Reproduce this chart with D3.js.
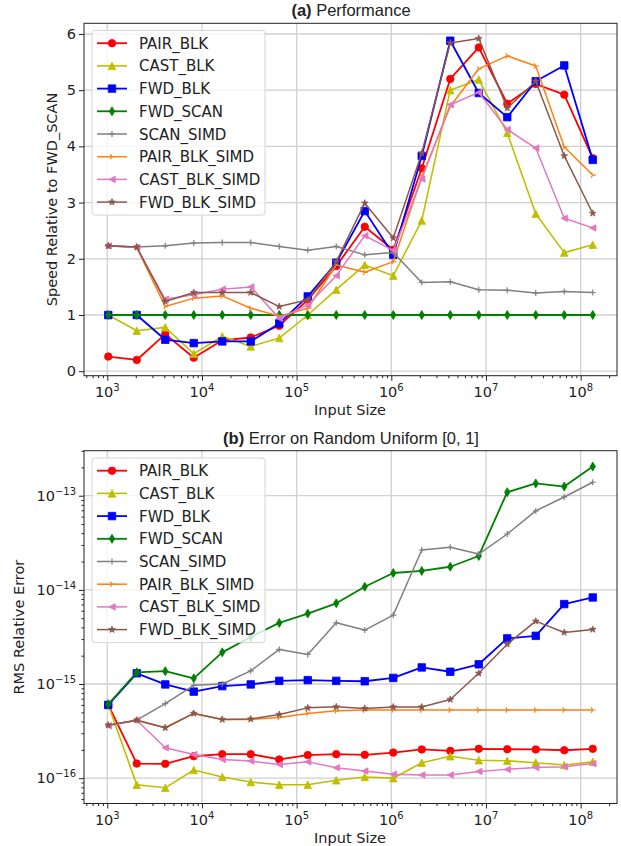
<!DOCTYPE html>
<html>
<head>
<meta charset="utf-8">
<script src="https://cdn.jsdelivr.net/npm/d3@7"></script>
<style>
  body { margin: 0; background: #fff; }
  svg { display: block; }
  text { font-family: "DejaVu Sans", sans-serif; fill: #222; }
</style>
</head>
<body>
<div id="chart"></div>
<script>
// tailles d'entrée (2^10 .. 2^27)
const sizes = [1024, 2048, 4096, 8192, 16384, 32768, 65536, 131072, 262144, 524288,
  1048576, 2097152, 4194304, 8388608, 16777216, 33554432, 67108864, 134217728];

const seriesNames = ["PAIR_BLK", "CAST_BLK", "FWD_BLK", "FWD_SCAN", "SCAN_SIMD",
  "PAIR_BLK_SIMD", "CAST_BLK_SIMD", "FWD_BLK_SIMD"];

// (a) vitesse relative à FWD_SCAN
const speedPairBlk = [0.26, 0.20, 0.66, 0.24, 0.55, 0.60, 0.81, 1.27, 1.87, 2.57, 2.16, 3.61, 5.20, 5.76, 4.76, 5.11, 4.92, 3.79];
const speedCastBlk = [1.00, 0.72, 0.78, 0.31, 0.62, 0.44, 0.59, 1.00, 1.45, 1.89, 1.70, 2.68, 5.00, 5.19, 4.24, 2.80, 2.11, 2.25];
const speedFwdBlk = [1.00, 1.00, 0.56, 0.50, 0.53, 0.53, 0.85, 1.33, 1.93, 2.85, 2.07, 3.83, 5.88, 4.95, 4.52, 5.16, 5.44, 3.76];
const speedFwdScan = [1, 1, 1, 1, 1, 1, 1, 1, 1, 1, 1, 1, 1, 1, 1, 1, 1, 1];
const speedScanSimd = [2.23, 2.21, 2.23, 2.28, 2.29, 2.29, 2.22, 2.15, 2.22, 2.07, 2.11, 1.58, 1.59, 1.45, 1.44, 1.39, 1.42, 1.40];
const speedPairBlkSimd = [2.23, 2.20, 1.15, 1.30, 1.34, 1.12, 0.98, 1.12, 1.89, 1.76, 1.95, 3.46, 4.71, 5.38, 5.61, 5.43, 3.99, 3.49];
const speedCastBlkSimd = [2.23, 2.20, 1.28, 1.36, 1.46, 1.50, 0.94, 1.18, 1.70, 2.41, 2.15, 3.42, 4.74, 4.96, 4.30, 3.97, 2.72, 2.55];
const speedFwdBlkSimd = [2.23, 2.21, 1.24, 1.40, 1.40, 1.40, 1.15, 1.27, 1.95, 2.99, 2.37, 3.88, 5.84, 5.92, 4.68, 5.16, 3.83, 2.81];

// (b) erreur RMS relative
const errPairBlk = [6.0e-16, 1.43e-16, 1.42e-16, 1.71e-16, 1.80e-16, 1.80e-16, 1.58e-16, 1.76e-16, 1.80e-16, 1.77e-16, 1.87e-16, 2.02e-16, 1.95e-16, 2.05e-16, 2.03e-16, 2.02e-16, 1.98e-16, 2.05e-16];
const errCastBlk = [6.0e-16, 8.5e-17, 7.9e-17, 1.22e-16, 1.03e-16, 9.1e-17, 8.5e-17, 8.5e-17, 9.5e-17, 1.03e-16, 1.0e-16, 1.46e-16, 1.71e-16, 1.55e-16, 1.53e-16, 1.46e-16, 1.38e-16, 1.49e-16];
const errFwdBlk = [6.0e-16, 1.30e-15, 9.9e-16, 8.3e-16, 9.5e-16, 9.9e-16, 1.08e-15, 1.10e-15, 1.08e-15, 1.07e-15, 1.16e-15, 1.50e-15, 1.35e-15, 1.62e-15, 3.05e-15, 3.25e-15, 7.06e-15, 8.3e-15];
const errFwdScan = [6.1e-16, 1.33e-15, 1.37e-15, 1.15e-15, 2.17e-15, 3.16e-15, 4.46e-15, 5.6e-15, 7.2e-15, 1.08e-14, 1.51e-14, 1.59e-14, 1.76e-14, 2.29e-14, 1.09e-13, 1.35e-13, 1.25e-13, 2.04e-13];
const errScanSimd = [3.66e-16, 4.13e-16, 6.2e-16, 9.7e-16, 1.0e-15, 1.38e-15, 2.33e-15, 2.06e-15, 4.47e-15, 3.74e-15, 5.4e-15, 2.65e-14, 2.83e-14, 2.4e-14, 3.92e-14, 6.9e-14, 9.7e-14, 1.39e-13];
const errPairBlkSimd = [3.66e-16, 4.13e-16, 3.43e-16, 4.87e-16, 4.2e-16, 4.2e-16, 4.41e-16, 4.87e-16, 5.19e-16, 5.3e-16, 5.3e-16, 5.3e-16, 5.3e-16, 5.3e-16, 5.3e-16, 5.3e-16, 5.3e-16, 5.3e-16];
const errCastBlkSimd = [3.6e-16, 4.13e-16, 2.1e-16, 1.78e-16, 1.58e-16, 1.52e-16, 1.40e-16, 1.49e-16, 1.29e-16, 1.19e-16, 1.10e-16, 1.08e-16, 1.08e-16, 1.18e-16, 1.24e-16, 1.30e-16, 1.32e-16, 1.43e-16];
const errFwdBlkSimd = [3.66e-16, 4.13e-16, 3.43e-16, 4.87e-16, 4.2e-16, 4.25e-16, 4.75e-16, 5.58e-16, 5.72e-16, 5.5e-16, 5.7e-16, 5.7e-16, 6.85e-16, 1.3e-15, 2.65e-15, 4.65e-15, 3.53e-15, 3.8e-15];

const speedTicks = [0, 1, 2, 3, 4, 5, 6];
const errTickExps = [-16, -15, -14, -13];
const sizeTickExps = [3, 4, 5, 6, 7, 8];

const speedData = [speedPairBlk, speedCastBlk, speedFwdBlk, speedFwdScan, speedScanSimd, speedPairBlkSimd, speedCastBlkSimd, speedFwdBlkSimd];
const errData = [errPairBlk, errCastBlk, errFwdBlk, errFwdScan, errScanSimd, errPairBlkSimd, errCastBlkSimd, errFwdBlkSimd];

// styles : couleur, marqueur, taille, épaisseur
const styles = [
  { color: "#ff0000", marker: "circle", size: 7.5, width: 1.8 },
  { color: "#bfbf00", marker: "triUp", size: 7.5, width: 1.6 },
  { color: "#0000ff", marker: "square", size: 7.5, width: 1.8 },
  { color: "#008000", marker: "thinDiamond", size: 9, width: 1.8 },
  { color: "#7f7f7f", marker: "plus", size: 6, width: 1.5 },
  { color: "#ff7f0e", marker: "triRight", size: 6, width: 1.5 },
  { color: "#e377c2", marker: "triLeft", size: 6.5, width: 1.5 },
  { color: "#8c564b", marker: "star", size: 7, width: 1.5 }
];

const fs = "14.5px";     // taille des textes d'axes
const fsSup = "10px";

// chemins des marqueurs, centrés sur (0,0)
function markerPath(type, s) {
  const r = s / 2;
  switch (type) {
    case "circle": return `M${r},0A${r},${r} 0 1,1 ${-r},0A${r},${r} 0 1,1 ${r},0Z`;
    case "square": return `M${-r},${-r}H${r}V${r}H${-r}Z`;
    case "triUp": return `M0,${-r}L${r},${r}L${-r},${r}Z`;
    case "triLeft": return `M${-r},0L${r},${-r}L${r},${r}Z`;
    case "thinDiamond": return `M0,${-r}L${r * 0.6},0L0,${r}L${-r * 0.6},0Z`;
    case "plus": return `M${-r},0H${r}M0,${-r}V${r}`;
    case "triRight": return `M0,0L${r},0M0,0L${-r * 0.5},${-r * 0.87}M0,0L${-r * 0.5},${r * 0.87}`;
    case "star": {
      let d = "";
      for (let i = 0; i < 10; i++) {
        const a = -Math.PI / 2 + i * Math.PI / 5;
        const rr = i % 2 === 0 ? r : r * 0.4;
        d += (i === 0 ? "M" : "L") + (rr * Math.cos(a)).toFixed(2) + "," + (rr * Math.sin(a)).toFixed(2);
      }
      return d + "Z";
    }
  }
}
const openMarker = t => t === "plus" || t === "triRight";

const W = 621, H = 846;
const svg = d3.select("#chart").append("svg").attr("width", W).attr("height", H);

const left = 84, right = 617;
const x = d3.scaleLog().domain([Math.pow(10, 2.754), Math.pow(10, 8.384)]).range([left, right]);

function drawPanel(cfg) {
  const g = svg.append("g");
  const y = cfg.y;
  const [top, bottom] = [y.range()[1], y.range()[0]];

  // grille
  sizeTickExps.forEach(e => {
    g.append("line").attr("x1", x(Math.pow(10, e))).attr("x2", x(Math.pow(10, e)))
      .attr("y1", top).attr("y2", bottom).attr("stroke", "#d0d0d0").attr("stroke-width", 1.3);
  });
  cfg.yTicks.forEach(v => {
    g.append("line").attr("x1", left).attr("x2", right).attr("y1", y(v)).attr("y2", y(v))
      .attr("stroke", "#d0d0d0").attr("stroke-width", 1.3);
  });

  // séries
  const line = d3.line().x((d, i) => x(sizes[i])).y(d => y(d));
  cfg.data.forEach((vals, si) => {
    const st = styles[si];
    const sg = g.append("g");
    sg.append("path").attr("d", line(vals)).attr("fill", "none")
      .attr("stroke", st.color).attr("stroke-width", st.width).attr("stroke-linejoin", "round");
    sg.selectAll("path.m").data(vals).join("path").attr("class", "m")
      .attr("transform", (d, i) => `translate(${x(sizes[i])},${y(d)})`)
      .attr("d", markerPath(st.marker, st.size))
      .attr("fill", openMarker(st.marker) ? "none" : st.color)
      .attr("stroke", st.color).attr("stroke-width", openMarker(st.marker) ? 1.2 : 0.8);
  });

  // axes
  const xAxis = d3.axisBottom(x).tickValues(sizeTickExps.map(e => Math.pow(10, e)))
    .tickFormat("").tickSize(5);
  const xMinor = [];
  for (let e = 2; e <= 8; e++) for (let m = 2; m <= 9; m++) {
    const v = m * Math.pow(10, e);
    if (x(v) > left && x(v) < right) xMinor.push(v);
  }
  const ax = g.append("g").attr("transform", `translate(0,${bottom})`).call(xAxis);
  ax.select(".domain").remove();
  ax.selectAll(".tick line").attr("stroke", "#222");
  g.append("g").attr("transform", `translate(0,${bottom})`)
    .call(d3.axisBottom(x).tickValues(xMinor).tickFormat("").tickSize(2.5))
    .call(a => a.select(".domain").remove())
    .selectAll(".tick line").attr("stroke", "#222");
  sizeTickExps.forEach(e => {
    const t = g.append("text").attr("x", x(Math.pow(10, e))).attr("y", bottom + 21)
      .attr("text-anchor", "middle").style("font-size", fs);
    t.append("tspan").text("10");
    t.append("tspan").attr("dy", -6).style("font-size", fsSup).text(String(e));
  });

  const ay = g.append("g").attr("transform", `translate(${left},0)`)
    .call(d3.axisLeft(y).tickValues(cfg.yTicks).tickFormat("").tickSize(5));
  ay.select(".domain").remove();
  ay.selectAll(".tick line").attr("stroke", "#222");
  if (cfg.yMinor) {
    g.append("g").attr("transform", `translate(${left},0)`)
      .call(d3.axisLeft(y).tickValues(cfg.yMinor).tickFormat("").tickSize(2.5))
      .call(a => a.select(".domain").remove())
      .selectAll(".tick line").attr("stroke", "#222");
  }
  cfg.yLabels.forEach(([v, base, sup]) => {
    const t = g.append("text").attr("x", left - 8).attr("y", y(v) + 5)
      .attr("text-anchor", "end").style("font-size", fs);
    t.append("tspan").text(base);
    if (sup) t.append("tspan").attr("dy", -6).style("font-size", fsSup).text(sup);
  });

  // cadre
  g.append("rect").attr("x", left).attr("y", top).attr("width", right - left).attr("height", bottom - top)
    .attr("fill", "none").attr("stroke", "#222").attr("stroke-width", 1);

  // titres
  const title = g.append("text").attr("x", (left + right) / 2 + 0.5).attr("y", top - 7)
    .attr("text-anchor", "middle").style("font-family", "'Liberation Sans', Arial, sans-serif")
    .style("font-size", "16.5px");
  title.append("tspan").style("font-weight", "bold").text(cfg.tag + " ");
  title.append("tspan").text(cfg.title);
  g.append("text").attr("x", 350).attr("y", bottom + 39).attr("text-anchor", "middle")
    .style("font-size", fs).text("Input Size");
  g.append("text").attr("transform", `translate(${cfg.yLabelX},${(top + bottom) / 2}) rotate(-90)`)
    .attr("text-anchor", "middle").style("font-size", fs).text(cfg.yLabel);

  // légende
  const lg = g.append("g");
  const ly0 = cfg.legendTop, step = 22.7;
  lg.append("rect").attr("x", 92).attr("y", ly0).attr("width", 173).attr("height", step * 8 + 3)
    .attr("rx", 3).attr("fill", "#fff").attr("fill-opacity", 0.8).attr("stroke", "#d5d5d5");
  seriesNames.forEach((name, i) => {
    const st = styles[i];
    const cy = ly0 + 12.7 + i * step;
    lg.append("line").attr("x1", 97).attr("x2", 127).attr("y1", cy).attr("y2", cy)
      .attr("stroke", st.color).attr("stroke-width", st.width);
    lg.append("path").attr("transform", `translate(112,${cy})`).attr("d", markerPath(st.marker, st.size))
      .attr("fill", openMarker(st.marker) ? "none" : st.color).attr("stroke", st.color)
      .attr("stroke-width", openMarker(st.marker) ? 1.2 : 0.8);
    lg.append("text").attr("x", 139).attr("y", cy + 5.5).style("font-size", "15px").text(name);
  });
}

const yA = d3.scaleLinear().domain([-0.08, 6.19]).range([375.7, 23.3]);
drawPanel({
  y: yA, data: speedData, yTicks: speedTicks,
  yLabels: speedTicks.map(v => [v, String(v), null]),
  tag: "(a)", title: "Performance", yLabel: "Speed Relative to FWD_SCAN", yLabelX: 57,
  legendTop: 30.5
});

const yB = d3.scaleLog().domain([Math.pow(10, -16.269), Math.pow(10, -12.522)]).range([803.5, 450.7]);
const errMinor = [];
for (let e = -17; e <= -13; e++) for (let m = 2; m <= 9; m++) {
  const v = m * Math.pow(10, e);
  if (yB(v) < 803.5 && yB(v) > 450.7) errMinor.push(v);
}
drawPanel({
  y: yB, data: errData, yTicks: errTickExps.map(e => Math.pow(10, e)), yMinor: errMinor,
  yLabels: errTickExps.map(e => [Math.pow(10, e), "10", "\u2212" + String(-e)]),
  tag: "(b)", title: "Error on Random Uniform [0, 1]", yLabel: "RMS Relative Error", yLabelX: 24,
  legendTop: 458
});
</script>
</body>
</html>
